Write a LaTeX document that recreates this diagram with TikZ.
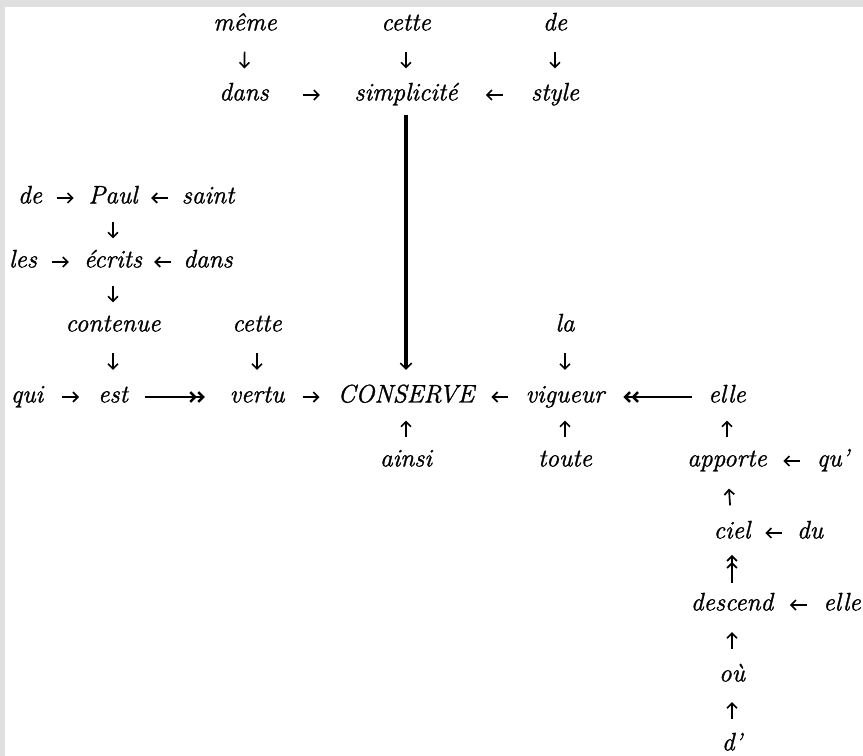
\documentclass[tikz,border=0pt]{standalone}
\usepackage{fontspec}
\setmainfont{Latin Modern Roman}[ItalicFeatures={FakeBold=1.2}]
\usepackage{tikz}
\usetikzlibrary{arrows.meta,decorations.markings}
\definecolor{frameGray}{RGB}{224,224,224}

\begin{document}
\begin{tikzpicture}[x=0.025cm,y=-0.025cm,
  w/.style={font=\fontsize{18}{20}\selectfont\itshape,inner sep=1pt,
            text height=7.7pt,text depth=0pt},
  tip/.style={-{Straight Barb[length=3.5pt,width=7pt]},line width=1.2pt},
  dtip/.style={-{Straight Barb[length=3.5pt,width=7pt]Straight Barb[length=3.5pt,width=7pt]},line width=1.2pt},
  lnk/.style={postaction={decorate},decoration={markings,
      mark=at position 0.5 with {\draw[tip](-6pt,0)--(6pt,0);}}},
  dlnk/.style={postaction={decorate},decoration={markings,
      mark=at position 0.5 with {\draw[dtip](-10pt,0)--(10pt,0);}}},
  far/.style={dtip,line width=1.8pt}
]
  \fill[white](0,0) rectangle (863,756);
  \fill[frameGray](0,0) rectangle (863,7);
  \fill[frameGray](0,0) rectangle (5,756);
  \useasboundingbox (0,0) rectangle (863,756);

  \node[w](meme)   at (245,25)  {même};
  \node[w](cette1) at (406,25)  {cette};
  \node[w](de1)    at (555,25)  {de};
  \node[w](dans1)  at (244,95)  {dans};
  \node[w](simp)   at (406,95)  {simplicité};
  \node[w](style)  at (555,95)  {style};

  \node[w](de2)    at (30,198)  {de};
  \node[w](paul)   at (113,198) {Paul};
  \node[w](saint)  at (208,198) {saint};
  \node[w](les)    at (23,262)  {les};
  \node[w](ecrits) at (113,262) {écrits};
  \node[w](dans2)  at (208,262) {dans};
  \node[w](contenue) at (113,326) {contenue};
  \node[w](cette2) at (257,326) {cette};
  \node[w](la)     at (565,326) {la};

  \node[w](qui)    at (27,397)  {qui};
  \node[w](est)    at (113,397) {est};
  \node[w](vertu)  at (257,397) {vertu};
  \node[w](cons)   at (406,397) {CONSERVE};
  \node[w](vig)    at (565,397) {vigueur};
  \node[w](elle1)  at (727,397) {elle};

  \node[w](ainsi)  at (406,461) {ainsi};
  \node[w](toute)  at (565,461) {toute};
  \node[w](apporte) at (727,461) {apporte};
  \node[w](qu)     at (833,461) {qu’};
  \node[w](ciel)   at (732,533) {ciel};
  \node[w](du)     at (810,533) {du};
  \node[w](descend) at (732,605) {descend};
  \node[w](elle2)  at (842,605) {elle};
  \node[w](ou)     at (732,676) {où};
  \node[w](dap)    at (732,745) {d’};

  \path[lnk](meme)--(dans1); \path[lnk](cette1)--(simp); \path[lnk](de1)--(style);
  \path[lnk](dans1)--(simp); \path[lnk](style)--(simp);
  \path[lnk](de2)--(paul); \path[lnk](saint)--(paul); \path[lnk](paul)--(ecrits);
  \path[lnk](les)--(ecrits); \path[lnk](dans2)--(ecrits); \path[lnk](ecrits)--(contenue);
  \path[lnk](contenue)--(est); \path[lnk](cette2)--(vertu); \path[lnk](la)--(vig);
  \path[lnk](qui)--(est); \path[lnk](vertu)--(cons); \path[lnk](vig)--(cons);
  \path[lnk](ainsi)--(cons); \path[lnk](toute)--(vig); \path[lnk](apporte)--(elle1);
  \path[lnk](qu)--(apporte); \path[lnk](ciel)--(apporte); \path[lnk](du)--(ciel);
  \path[dlnk](descend)--(ciel); \path[lnk](elle2)--(descend);
  \path[lnk](ou)--(descend); \path[lnk](dap)--(ou);
  % long links
  \draw[far,shorten <=0.375cm,shorten >=0.575cm](est)--(vertu);
  \draw[far,shorten <=0.375cm,shorten >=0.43cm](elle1)--(vig);
  \draw[line width=2.4pt,-{Straight Barb[length=4pt,width=8pt,line width=1.2pt]},
        shorten <=0.33cm,shorten >=0.5cm](simp)--(cons);
\end{tikzpicture}
\end{document}
